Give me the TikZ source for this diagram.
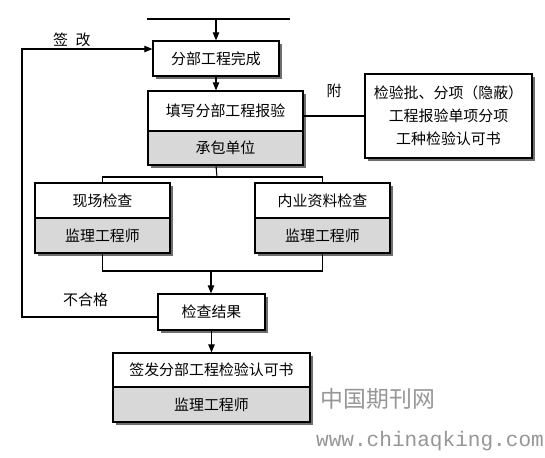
\documentclass[tikz,border=0pt]{standalone}
\usepackage{fontspec}
\usepackage{xcolor}
\usepackage{tikz}
\usetikzlibrary{arrows.meta, calc, shadows}
\newfontfamily\cjk{Noto Sans CJK SC}
\newfontfamily\wmono{Liberation Mono}
\definecolor{boxgray}{RGB}{216,216,216}
\definecolor{shadowgray}{RGB}{110,110,110}
\definecolor{markgray}{RGB}{150,150,150}
\tikzset{
  stagebox/.style={rectangle, draw=black, fill=white, line width=0.7pt,
    align=center, inner sep=0pt, font=\cjk\fontsize{8.5}{13}\selectfont,
    drop shadow={shadow xshift=0.6mm, shadow yshift=-0.6mm, fill=shadowgray, opacity=1}},
  rolebox/.style={stagebox, fill=boxgray},
  arrow/.style={-{Triangle[length=1.6mm, width=1.3mm]}, line width=0.6pt, color=black},
  line/.style={line width=0.6pt, color=black},
  note/.style={font=\cjk\fontsize{8.5}{11}\selectfont}
}

\begin{document}
\begin{tikzpicture}[x=0.02cm, y=-0.02cm]
  \useasboundingbox (0,0) rectangle (545,457);
  % Nodes
  \coordinate (topl) at (147,19);
  \coordinate (topr) at (290,19);

  \node[stagebox, minimum width=2.52cm, minimum height=0.70cm] (done) at (216,58.5) {分部工程完成};

  \node[stagebox, minimum width=3.1cm, minimum height=0.80cm] (report) at (225.5,111) {填写分部工程报验};
  \node[rolebox, minimum width=3.1cm, minimum height=0.68cm] (contractor) at (225.5,148) {承包单位};

  \node[stagebox, minimum width=3.34cm, minimum height=1.68cm] (attach) at (448.5,116) {检验批、分项（隐蔽）\\工程报验单项分项\\工种检验认可书};

  \node[stagebox, minimum width=2.7cm, minimum height=0.70cm] (site) at (102.5,200.5) {现场检查};
  \node[rolebox, minimum width=2.7cm, minimum height=0.70cm] (siteeng) at (102.5,235.5) {监理工程师};

  \node[stagebox, minimum width=2.7cm, minimum height=0.70cm] (docs) at (322.5,200.5) {内业资料检查};
  \node[rolebox, minimum width=2.7cm, minimum height=0.70cm] (docseng) at (322.5,235.5) {监理工程师};

  \node[stagebox, minimum width=2.14cm, minimum height=0.72cm] (result) at (211.5,312) {检查结果};

  \node[stagebox, minimum width=3.94cm, minimum height=0.68cm] (issue) at (211.5,370) {签发分部工程检验认可书};
  \node[rolebox, minimum width=3.94cm, minimum height=0.70cm] (issueeng) at (211.5,404.5) {监理工程师};

  \coordinate (split) at (217,177);
  \coordinate (merge) at (211,271);
  \coordinate (backl) at (22,317);

  % Connections
  \draw[line] (topl) -- (topr);
  \draw[arrow] (done.north |- topl) -- (done.north);
  \draw[arrow] (done.south) -- (done.south |- report.north);
  \draw[line] (attach.west) -- (attach.west -| report.east) node[midway, above=7pt, note] {附};
  \draw[line] (done.south |- contractor.south) -- (split);
  \draw[line] (site.north) |- (split) -| (docs.north);
  \draw[line] (siteeng.south) |- (merge) -| (docseng.south);
  \draw[arrow] (merge) -- (merge |- result.north);
  \draw[arrow] (result.south) -- (result.south |- issue.north);

  % Feedback loop
  \draw[arrow] (result.west |- backl) -- (backl) |- ($(done.west)+(0,-9.5)$);
  \node[note, anchor=west] (redo) at (47,40) {签\hspace{0.5em}改};
  \node[note, anchor=west] (fail) at (57,300) {不合格};

  % Watermark
  \node[font=\cjk\fontsize{13}{15}\selectfont, text=markgray] (mark) at (378,399) {中国期刊网};
  \node[font=\wmono\fontsize{12}{14}\selectfont, text=markgray] (url) at (430,441) {www.chinaqking.com};
\end{tikzpicture}
\end{document}
